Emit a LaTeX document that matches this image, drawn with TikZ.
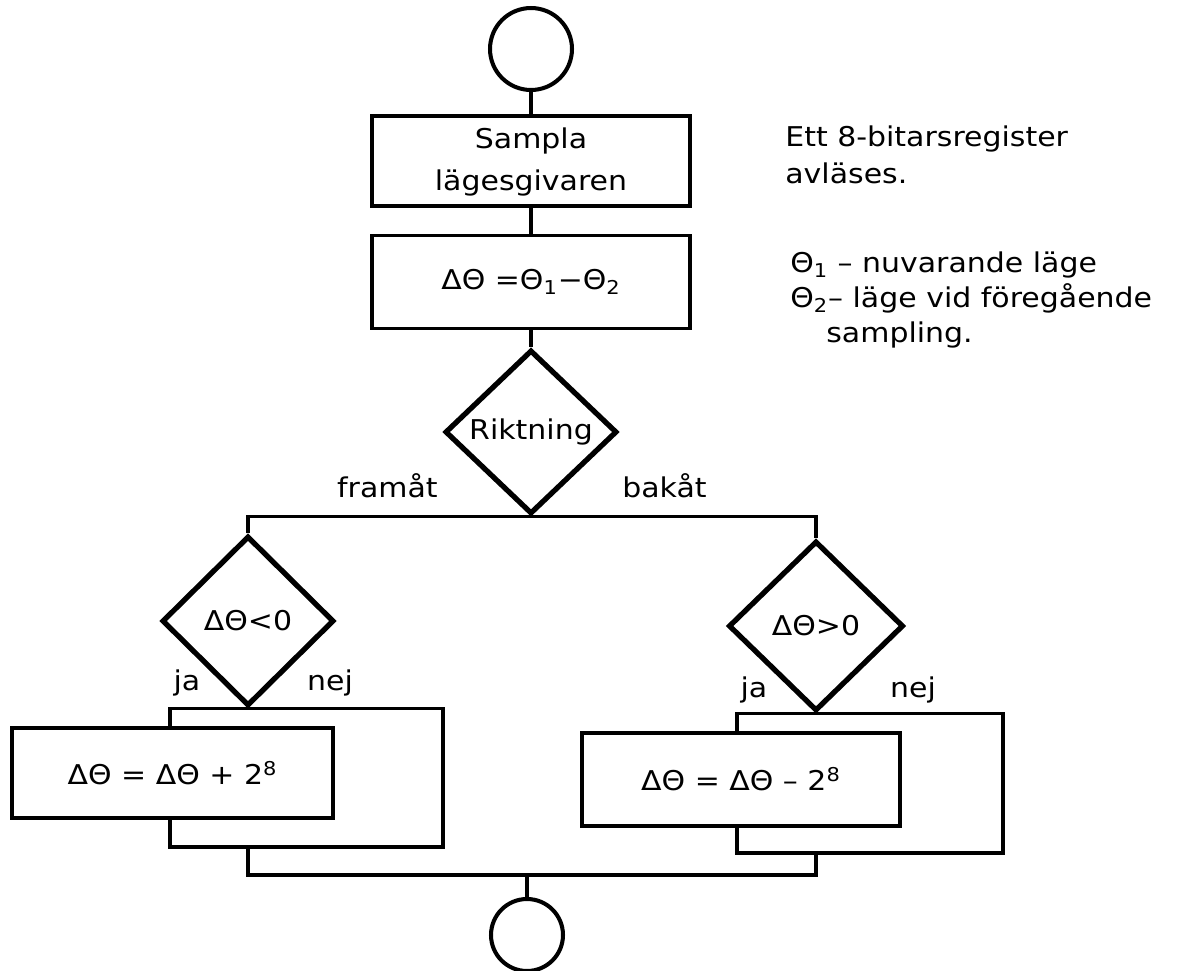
\documentclass[tikz,border=0pt]{standalone}
\usepackage{fontspec}
\setmainfont{DejaVu Sans}[FakeStretch=1.1]
\usetikzlibrary{shapes.geometric}
\begin{document}
\begin{tikzpicture}[x=0.02cm,y=-0.02cm,
  every node/.style={font=\fontsize{15.5}{24}\selectfont},
  wire/.style={line width=1.9pt},
  procbox/.style={draw,rectangle,line width=1.9pt,inner sep=0pt,align=center},
  decision/.style={draw,diamond,line width=3pt,inner sep=0pt},
  terminal/.style={draw,circle,line width=2.3pt,inner sep=0pt},
  note/.style={anchor=base west,inner sep=0pt},
  branch/.style={anchor=base,inner sep=0pt}]
\useasboundingbox (0,0) rectangle (1198,971);

% main column
\node[terminal,minimum size=1.64cm] (start) at (531,49) {};
\node[procbox,minimum width=6.36cm,minimum height=1.8cm] (sample) at (531,161)
  {\raisebox{-0.1cm}{\begin{tabular}{@{}c@{}}Sampla\\lägesgivaren\end{tabular}}};
\node[procbox,minimum width=6.36cm,minimum height=1.86cm] (diff) at (531,282) {ΔΘ =Θ\textsubscript{1}−Θ\textsubscript{2}};
\node[decision,minimum width=3.44cm,minimum height=3.28cm] (dir) at (531,432) {Riktning};

% two branches
\node[decision,minimum width=3.44cm,minimum height=3.4cm] (ldec) at (248,621) {ΔΘ<0};
\node[decision,minimum width=3.5cm,minimum height=3.4cm] (rdec) at (816,626) {ΔΘ>0};
\node[procbox,minimum width=6.42cm,minimum height=1.8cm] (lbox) at (172.5,773) {ΔΘ = ΔΘ + 2\textsuperscript{8}};
\node[procbox,minimum width=6.36cm,minimum height=1.86cm] (rbox) at (741,779.5) {ΔΘ = ΔΘ – 2\textsuperscript{8}};
\node[terminal,minimum size=1.44cm] (stop) at (527,935) {};

% loop corners and merge point
\coordinate (lbl) at (170,847);
\coordinate (lbr) at (443,847);
\coordinate (rbl) at (737,853);
\coordinate (rbr) at (1003,853);
\coordinate (merge) at (527,875);

% connectors
\draw[wire] (start) -- (sample);
\draw[wire] (sample) -- (diff);
\draw[wire] (diff) -- (dir);
\draw[wire] (ldec.north) |- (dir.south) -| (rdec.north);
\draw[wire] (lbox.north -| lbl) |- (ldec.south) -| (lbr) -- (lbl) -- (lbox.south -| lbl);
\draw[wire] (rbox.north -| rbl) |- (rdec.south) -| (rbr) -- (rbl) -- (rbox.south -| rbl);
\draw[wire] (lbl -| ldec.south) |- (merge) -| (rbl -| rdec.south);
\draw[wire] (merge) -- (stop);

% branch labels
\node[anchor=base east,inner sep=0pt] (fwd) at (438,497) {framåt};
\node[anchor=base west,inner sep=0pt] (bwd) at (622,497) {bakåt};
\node[branch] (lja) at (187,690) {ja};
\node[branch] (lnej) at (330,690) {nej};
\node[branch] (rja) at (754,697) {ja};
\node[branch] (rnej) at (913,697) {nej};

% side notes
\node[note] (n1) at (785,146) {Ett 8-bitarsregister};
\node[note] (n2) at (785,183) {avläses.};
\node[note] (n3) at (790,272) {Θ\textsubscript{1} – nuvarande läge};
\node[note] (n4) at (790,307) {Θ\textsubscript{2}– läge vid föregående};
\node[note] (n5) at (826,342) {sampling.};
\end{tikzpicture}
\end{document}
